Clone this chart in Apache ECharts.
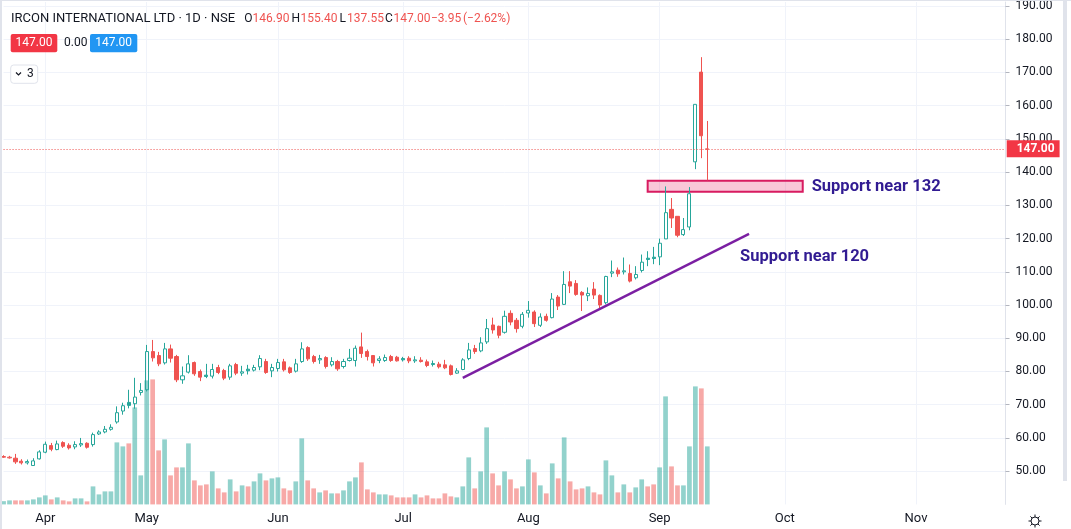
<!DOCTYPE html>
<html><head><meta charset="utf-8">
<script src="https://cdn.jsdelivr.net/npm/echarts@6/dist/echarts.min.js"></script>
<style>html,body{margin:0;padding:0;background:#fff;}#c{width:1071px;height:529px;}</style>
</head><body><div id="c"></div>
<script>
// ---------- data ----------
const symbolTitle = 'IRCON INTERNATIONAL LTD · 1D · NSE';
const holidays = ['2023-03-30','2023-04-04','2023-04-07','2023-04-14','2023-05-01','2023-06-29','2023-08-15'];
const firstDate = [2023, 2, 22];   // 2023-03-22
const lastDate = [2023, 8, 13];    // 2023-09-13
const futureBars = 50;
const priorClose = 54.6;

const opens = [54.2,54.0,53.9,53.0,52.5,51.7,53.7,55.7,57.7,56.5,
 58.6,57.8,57.3,57.9,58.4,58.0,61.2,61.8,62.6,64.8,
 68.1,70.7,70.3,73.7,74.5,86.0,84.8,82.6,86.8,84.5,
 77.5,79.8,82.7,80.0,78.9,78.6,81.2,80.3,78.3,82.1,
 79.5,80.7,80.4,81.4,83.0,80.2,80.9,82.9,81.1,80.1,
 83.0,87.2,84.5,83.5,84.2,82.0,83.0,81.5,83.3,83.3,
 87.4,86.0,84.8,83.3,83.3,84.5,84.3,83.9,84.0,83.2,
 83.4,82.9,82.4,82.2,82.0,81.7,79.5,80.6,83.9,86.9,
 86.2,88.9,94.0,93.6,91.8,97.5,95.4,93.6,97.6,97.9,
 93.9,96.6,96.2,102.4,100.2,107.0,106.5,103.8,102.8,104.8,
 102.9,100.7,109.6,110.5,110.0,109.5,108.2,110.4,114.1,114.4,
 114.5,119.9,128.8,126.7,121.2,123.5,143.1,170.1,146.9];
const closes = [54.4,54.2,52.8,52.5,52.9,53.1,55.8,58.1,56.6,58.2,
 57.5,57.0,58.0,58.3,57.2,61.0,61.8,62.6,63.2,67.6,
 69.7,69.8,72.3,74.3,86.0,84.1,82.3,86.8,84.0,77.5,
 78.7,82.3,79.3,78.3,78.5,80.6,79.7,78.0,81.7,79.5,
 79.9,80.2,81.2,83.9,79.7,81.2,82.7,80.5,79.7,82.3,
 86.8,83.8,83.0,83.9,81.5,83.0,80.8,83.0,84.0,87.0,
 85.4,84.5,82.6,83.8,84.2,83.3,83.2,83.5,83.2,83.5,
 83.0,81.8,82.1,81.4,81.1,79.1,80.2,83.5,86.5,86.0,
 88.6,92.9,92.5,90.9,96.6,94.9,92.9,97.2,98.4,94.4,
 96.4,95.4,101.8,99.7,106.2,105.7,103.2,103.0,103.5,103.0,
 100.0,108.6,110.0,109.4,110.3,107.2,109.2,112.9,113.7,114.0,
 118.6,127.8,126.2,121.0,122.7,133.5,160.4,150.95,147.0];
const highs = [54.8,54.6,55.2,53.6,53.5,53.9,56.3,58.9,58.5,59.2,
 59.0,58.4,59.0,60.0,58.7,61.6,62.3,63.6,64.1,69.5,
 70.6,74.5,78.1,76.5,88.0,89.5,85.9,88.6,88.1,85.0,
 81.5,84.9,83.0,80.6,82.3,82.3,82.0,80.8,82.3,82.6,
 81.7,82.0,82.0,84.9,83.8,82.3,83.8,83.8,81.5,83.8,
 88.8,87.6,85.0,85.0,84.6,84.3,83.5,83.8,86.8,87.8,
 91.7,86.6,84.8,84.6,85.1,85.0,84.7,84.4,84.6,84.6,
 84.3,83.6,83.3,82.9,83.5,82.1,81.0,84.0,88.6,88.0,
 90.3,95.8,96.2,93.8,98.3,98.4,96.1,97.9,101.2,98.4,
 97.5,97.4,103.6,103.0,110.2,110.2,107.5,104.2,105.3,106.9,
 103.2,108.8,113.4,111.3,114.3,112.2,111.7,115.2,116.2,117.5,
 120.0,135.7,132.2,126.7,126.2,135.5,160.4,174.6,155.4];
const lows = [54.0,53.8,52.2,52.0,52.0,51.6,53.5,55.4,56.0,56.3,
 57.0,56.5,56.6,57.3,56.8,57.4,60.9,61.4,62.2,64.3,
 67.0,68.9,68.8,72.8,74.0,83.0,81.6,82.1,82.7,76.8,
 76.3,79.4,78.7,77.1,78.0,77.9,79.2,77.4,77.5,78.9,
 78.7,79.1,80.0,80.4,79.3,78.3,80.0,80.0,79.3,79.7,
 82.6,83.2,82.4,82.3,80.9,81.5,80.2,80.9,83.0,81.5,
 84.1,83.3,81.5,82.5,82.9,82.9,83.0,83.0,82.5,82.6,
 82.7,81.3,81.5,80.9,80.7,78.8,79.3,80.4,83.4,85.3,
 85.8,88.3,91.4,90.0,91.4,93.9,91.7,93.0,96.2,93.4,
 93.4,95.0,96.0,98.5,100.0,103.6,102.8,98.2,101.2,101.8,
 99.1,100.2,108.4,108.5,109.2,106.8,107.7,109.8,111.7,112.3,
 112.0,119.9,123.2,120.4,120.8,122.5,140.9,144.2,137.55];
const volumes = [1.3,1.6,1.6,1.6,1.6,2.0,2.8,3.6,2.0,2.8,
 1.6,1.2,2.4,2.4,1.2,7.2,4.0,5.2,5.2,24.8,
 23.2,24.4,38.8,11.6,49.6,50.0,21.6,26.0,11.6,14.8,
 14.8,24.4,9.6,7.6,8.0,13.2,6.4,4.8,10.0,5.2,
 7.6,7.2,9.2,12.4,9.6,10.4,10.8,6.4,5.6,9.2,
 26.4,9.6,6.4,4.8,5.6,4.4,4.4,5.6,9.2,10.8,
 16.8,6.0,4.8,4.0,4.0,3.6,2.8,2.8,2.8,4.0,
 2.8,3.6,2.4,2.4,4.4,3.2,2.8,7.2,18.8,6.4,
 13.2,30.8,12.4,7.6,13.2,10.0,6.4,7.2,18.0,12.8,
 7.6,4.4,16.4,10.4,26.8,9.2,6.0,6.4,7.2,4.8,
 4.0,17.6,11.6,4.8,8.0,4.8,6.8,10.0,7.2,8.0,
 14.8,43.2,15.2,7.6,7.6,23.2,47.2,46.4,23.2];

const monthTickDates = ['2023-04-03','2023-05-02','2023-06-01','2023-07-03','2023-08-01','2023-09-01','2023-10-02','2023-11-01'];
const monthTickLabels = ['Apr','May','Jun','Jul','Aug','Sep','Oct','Nov'];

const supportZone = {start:'2023-08-30', end:'2023-10-05', low:134.1, high:137.4};
const trendLine = {start:['2023-07-17', 78.1], end:['2023-09-22', 121.4]};
const notes = [
  {text:'Support near 132', date:'2023-10-06', price:135.7},
  {text:'Support near 120', date:'2023-09-20', price:114.4}
];

// ---------- styling ----------
const UP = '#26a69a', DOWN = '#ef5350';
const VUP = 'rgba(38,166,154,0.5)', VDOWN = 'rgba(239,83,80,0.5)';
const FONT = 'Roboto, "Noto Sans", sans-serif';
const TXT = '#131722';
const GRIDC = '#f0f3fa';

// ---------- build categories ----------
function iso(t){ return new Date(t).toISOString().slice(0,10); }
const dates = [];
{
  let t = Date.UTC(firstDate[0], firstDate[1], firstDate[2]);
  const end = Date.UTC(lastDate[0], lastDate[1], lastDate[2]);
  while (t <= end) {
    const wd = new Date(t).getUTCDay();
    const s = iso(t);
    if (wd !== 0 && wd !== 6 && holidays.indexOf(s) < 0) dates.push(s);
    t += 86400000;
  }
  let added = 0;
  while (added < futureBars) {
    const wd = new Date(t).getUTCDay();
    if (wd !== 0 && wd !== 6) { dates.push(iso(t)); added++; }
    t += 86400000;
  }
}
const tickIndexSet = new Set(monthTickDates.map(d => dates.indexOf(d)));
const labelOf = {};
monthTickDates.forEach((d, i) => labelOf[d] = monthTickLabels[i]);

const n = closes.length;
const candleData = opens.map((o, i) => {
  const prev = i ? closes[i-1] : priorClose;
  const col = closes[i] >= prev ? UP : DOWN;
  const fill = closes[i] > o ? 'rgba(0,0,0,0)' : col;
  return {value:[o, closes[i], lows[i], highs[i]],
    itemStyle:{color:fill, color0:fill, borderColor:col, borderColor0:col, borderColorDoji:col, borderWidth:1}};
});
const volData = volumes.map((v, i) => ({value:v, itemStyle:{color: closes[i] >= opens[i] ? VUP : VDOWN}}));

const last = n - 1;
const lastPrice = closes[last];
const chg = closes[last] - closes[last-1];
const pct = chg / closes[last-1] * 100;
const fmtSigned = v => (v < 0 ? '\u2212' : '+') + Math.abs(v).toFixed(2);

// header legend tokens (text + colour role + x position)
const headerTokens = [
  ['O', 'k', 244.3], [opens[last].toFixed(2), 'v', 252.5],
  ['H', 'k', 291.5], [highs[last].toFixed(2), 'v', 300.5],
  ['L', 'k', 339.5], [lows[last].toFixed(2), 'v', 347],
  ['C', 'k', 385], [closes[last].toFixed(2), 'v', 393.5],
  [fmtSigned(chg), 'v', 431], ['(' + fmtSigned(pct) + '%)', 'v', 463]
];

const chart = echarts.init(document.getElementById('c'), null, {renderer:'canvas'});

const catAxisBase = {
  type:'category', data:dates, boundaryGap:false,
  axisLine:{show:false}, axisTick:{show:false}
};

const graphics = [
  {type:'rect', shape:{x:0, y:0, width:1071, height:1}, style:{fill:'#e0e3eb'}, z:100},
  {type:'rect', shape:{x:0, y:0, width:2, height:529}, style:{fill:'#e0e3eb'}, z:100},
  {type:'rect', shape:{x:1063, y:0, width:4, height:481}, style:{fill:'#e0e3eb'}, z:100},
  {type:'text', x:11, y:19, style:{text:symbolTitle, fill:TXT, font:'13px ' + FONT, verticalAlign:'middle'}, z:100},
  {type:'rect', shape:{x:10.7, y:34, width:46.6, height:18.3, r:2}, style:{fill:'#f23645'}, z:100},
  {type:'text', x:34, y:43.4, style:{text:lastPrice.toFixed(2), fill:'#fff', font:'12px ' + FONT, align:'center', verticalAlign:'middle'}, z:101},
  {type:'text', x:64, y:43.4, style:{text:'0.00', fill:TXT, font:'12px ' + FONT, verticalAlign:'middle'}, z:101},
  {type:'rect', shape:{x:90, y:34, width:47.3, height:18.3, r:2}, style:{fill:'#2196f3'}, z:100},
  {type:'text', x:113.6, y:43.4, style:{text:lastPrice.toFixed(2), fill:'#fff', font:'12px ' + FONT, align:'center', verticalAlign:'middle'}, z:101},
  {type:'rect', shape:{x:10.7, y:65, width:27, height:18.3, r:3}, style:{fill:'#fff', stroke:'#e0e3eb', lineWidth:1}, z:100},
  {type:'polyline', shape:{points:[[16,72.5],[18.5,75],[21,72.5]]}, style:{stroke:TXT, lineWidth:1.2, fill:null}, z:101},
  {type:'text', x:27, y:74.4, style:{text:'3', fill:TXT, font:'12px ' + FONT, verticalAlign:'middle'}, z:101},
  {type:'circle', shape:{cx:1035, cy:521, r:4}, style:{fill:'none', stroke:TXT, lineWidth:1}, z:100}
].concat(headerTokens.map(t => ({type:'text', x:t[2], y:19, z:100,
  style:{text:t[0], fill:t[1] === 'k' ? TXT : DOWN, font:'12px ' + FONT, verticalAlign:'middle'}})))
 .concat([0,1,2,3,4,5,6,7].map(k => {
  const a = k * Math.PI / 4;
  return {type:'line', shape:{x1:1035 + 4*Math.cos(a), y1:521 + 4*Math.sin(a), x2:1035 + 6.5*Math.cos(a), y2:521 + 6.5*Math.sin(a)},
    style:{stroke:TXT, lineWidth:1}, z:100};
}));

chart.setOption({
  animation:false,
  backgroundColor:'#ffffff',
  grid:[
    {left:3.55, right:65.5, top:0, bottom:24.6},
    {left:3.55, right:65.5, top:374.4, bottom:24.6}
  ],
  xAxis:[
    Object.assign({}, catAxisBase, {
      gridIndex:0,
      axisLabel:{show:true, interval:(i) => tickIndexSet.has(i), formatter:(v) => labelOf[v] || '',
        color:TXT, fontSize:13, fontFamily:FONT, margin:8, hideOverlap:false},
      splitLine:{show:true, interval:(i) => tickIndexSet.has(i), lineStyle:{color:GRIDC, width:1}}
    }),
    Object.assign({}, catAxisBase, {gridIndex:1, axisLabel:{show:false}, splitLine:{show:false}})
  ],
  yAxis:[
    {type:'value', gridIndex:0, position:'right', min:40, max:191.2, interval:10,
      axisLine:{show:true, lineStyle:{color:'#e0e3eb'}},
      axisTick:{show:true, inside:false, length:4, lineStyle:{color:'#b2b5be'}},
      axisLabel:{color:TXT, fontSize:12, fontFamily:FONT, margin:10, formatter:(v) => v.toFixed(2),
        showMinLabel:false, showMaxLabel:false},
      splitLine:{show:true, lineStyle:{color:GRIDC, width:1}, showMinLine:false, showMaxLine:false}},
    {type:'value', gridIndex:1, min:0, max:52, show:false, splitLine:{show:false}}
  ],
  series:[
    {type:'bar', xAxisIndex:1, yAxisIndex:1, data:volData, barWidth:4.7, clip:false, silent:true},
    {type:'candlestick', xAxisIndex:0, yAxisIndex:0, data:candleData, barWidth:3.6, clip:false, silent:true,
      markArea:{silent:true,
        itemStyle:{color:'rgba(233,30,99,0.25)', borderColor:'#d81b60', borderWidth:2},
        data:[[{coord:[supportZone.start, supportZone.low]}, {coord:[supportZone.end, supportZone.high]}]]},
      markLine:{silent:true, symbol:['none','none'], animation:false,
        data:[
          {yAxis:lastPrice, lineStyle:{color:DOWN, type:[1,2], width:1},
            label:{show:true, position:'end', distance:1.2, formatter:lastPrice.toFixed(2),
              color:'#fff', backgroundColor:'#f23645', fontSize:12, fontWeight:'bold', fontFamily:FONT,
              padding:[2,5,2,10], lineHeight:13}},
          [{coord:trendLine.start, lineStyle:{color:'#7b1fa2', width:2.4, type:'solid'}, label:{show:false}},
           {coord:trendLine.end}]
        ]},
      markPoint:{silent:true, symbol:'circle', symbolSize:0,
        data:notes.map(nt => ({coord:[nt.date, nt.price], value:nt.text,
          label:{show:true, position:'right', distance:3, formatter:nt.text, color:'#311b92',
            fontSize:16.5, fontWeight:'bold', fontFamily:FONT}}))}
    }
  ],
  graphic:graphics
});
</script>
</body></html>
